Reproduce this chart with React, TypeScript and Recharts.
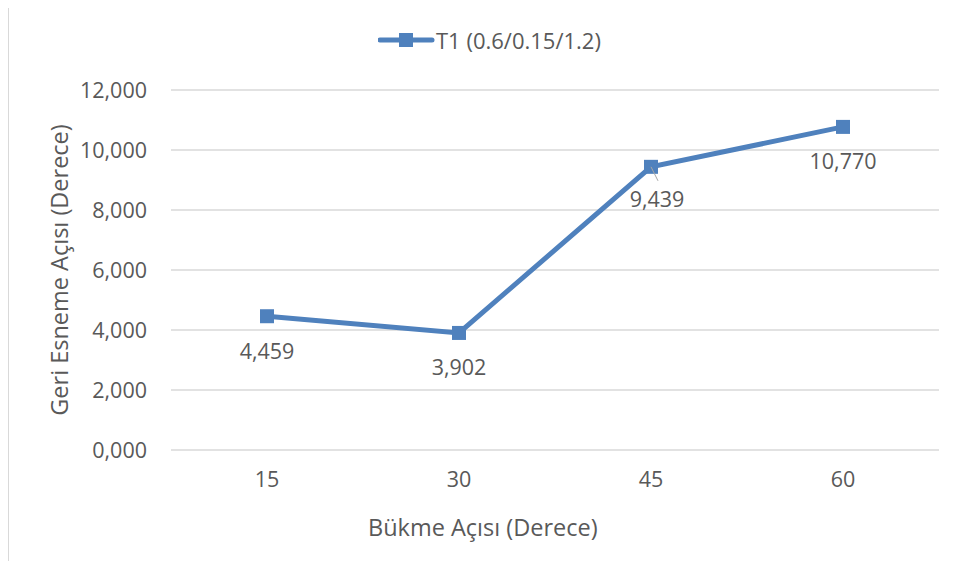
import { LineChart, Line, XAxis, YAxis, CartesianGrid, LabelList, Label } from 'recharts';

const categories = ['15', '30', '45', '60'];
const t1Values = [4.459, 3.902, 9.439, 10.77];
const yTicks = [0, 2, 4, 6, 8, 10, 12];
const seriesName = 'T1 (0.6/0.15/1.2)';

const BLUE = '#4f81bd';
const TEXT = '#595959';
const FONT = '"Open Sans", sans-serif';
const TICK_FS = 21.5;
const TITLE_FS = 23.5;

const data = categories.map((c, i) => ({ cat: c, t1: t1Values[i] }));

const fmt = (v: number) => v.toFixed(3).replace('.', ',');

const SquareDot = (props: any) => {
    const { cx, cy } = props;
    if (cx == null || cy == null) return null;
    return <rect x={cx - 7} y={cy - 7} width={14} height={14} fill={BLUE} />;
};

const PointLabel = (props: any) => {
    const { x, y, value, index } = props;
    // third label was dragged a bit in the original, with a leader line
    const dx = index === 2 ? 6 : 0;
    const dy = index === 2 ? 32 : 34;
    return (
        <g>
            {index === 2 && (
                <line x1={x} y1={y} x2={x + 7} y2={y + 14} stroke="#a6a6a6" strokeWidth={1} />
            )}
            <text
                x={x + dx}
                y={y + dy}
                textAnchor="middle"
                dominantBaseline="central"
                fill={TEXT}
                fontSize={TICK_FS}
                fontFamily={FONT}
            >
                {fmt(value)}
            </text>
        </g>
    );
};

const LegendBox = () => (
    <svg width={280} height={30} style={{ display: 'block' }}>
        <line x1={2} y1={15} x2={54} y2={15} stroke={BLUE} strokeWidth={5} strokeLinecap="round" />
        <rect x={21} y={8} width={14} height={14} fill={BLUE} />
        <text x={58} y={15} dominantBaseline="central" fill={TEXT} fontSize={22} fontFamily={FONT}>
            {seriesName}
        </text>
    </svg>
);

export default function App() {
    return (
        <div style={{ margin: -8, width: 956, height: 569, position: 'relative', overflow: 'hidden', background: '#fff' }}>
            <div
                style={{
                    position: 'absolute',
                    left: 8,
                    top: 1,
                    width: 980,
                    height: 564,
                    border: '1px solid #d9d9d9',
                }}
            />
            <div style={{ position: 'absolute', left: 378, top: 25 }}>
                <LegendBox />
            </div>
            <div style={{ position: 'absolute', left: 0, top: 0 }}>
                <LineChart
                    width={956}
                    height={569}
                    data={data}
                    margin={{ top: 90, right: 17, bottom: 59, left: 0 }}
                >
                    <CartesianGrid vertical={false} stroke="#d9d9d9" strokeWidth={1.3} />
                    <XAxis
                        dataKey="cat"
                        height={60}
                        padding={{ left: 96, right: 96 }}
                        axisLine={false}
                        tickLine={false}
                        tickSize={0}
                        tickMargin={22}
                        tick={{ fill: TEXT, fontSize: TICK_FS, fontFamily: FONT }}
                    >
                        <Label
                            content={({ viewBox }: any) => (
                                <text
                                    x={viewBox.x + viewBox.width * 0.406}
                                    y={viewBox.y + 77}
                                    textAnchor="middle"
                                    dominantBaseline="central"
                                    fill={TEXT}
                                    fontSize={TITLE_FS}
                                    fontFamily={FONT}
                                >
                                    Bükme Açısı (Derece)
                                </text>
                            )}
                        />
                    </XAxis>
                    <YAxis
                        width={171}
                        domain={[0, 12]}
                        ticks={yTicks}
                        interval={0}
                        axisLine={false}
                        tickLine={false}
                        tickSize={0}
                        tickMargin={24}
                        tickFormatter={fmt}
                        tick={{ fill: TEXT, fontSize: TICK_FS, fontFamily: FONT }}
                    >
                        <Label
                            content={({ viewBox }: any) => {
                                const cy = viewBox.y + viewBox.height / 2;
                                return (
                                    <text
                                        x={59}
                                        y={cy}
                                        transform={`rotate(-90 59 ${cy})`}
                                        textAnchor="middle"
                                        dominantBaseline="central"
                                        fill={TEXT}
                                        fontSize={TITLE_FS}
                                        fontFamily={FONT}
                                    >
                                        Geri Esneme Açısı (Derece)
                                    </text>
                                );
                            }}
                        />
                    </YAxis>
                    <Line
                        type="linear"
                        dataKey="t1"
                        name={seriesName}
                        stroke={BLUE}
                        strokeWidth={5}
                        dot={<SquareDot />}
                        activeDot={false}
                        isAnimationActive={false}
                    >
                        <LabelList dataKey="t1" content={<PointLabel />} />
                    </Line>
                </LineChart>
            </div>
        </div>
    );
}
